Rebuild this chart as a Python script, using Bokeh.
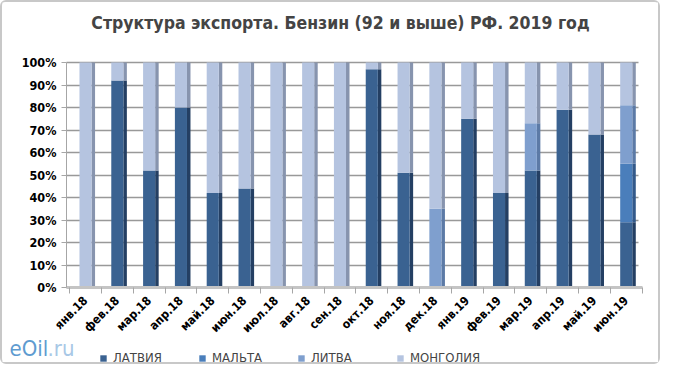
from bokeh.plotting import figure
from bokeh.models import (ColumnDataSource, Range1d, PrintfTickFormatter,
                          FixedTicker, Legend, LegendItem, Label)
from bokeh.transform import dodge
from bokeh.embed import file_html
from bokeh.resources import INLINE

months = ["янв.18", "фев.18", "мар.18", "апр.18", "май.18", "июн.18", "июл.18", "авг.18",
          "сен.18", "окт.18", "ноя.18", "дек.18", "янв.19", "фев.19", "мар.19", "апр.19",
          "май.19", "июн.19"]
series = ["ЛАТВИЯ", "МАЛЬТА", "ЛИТВА", "МОНГОЛИЯ"]
latvia =    [0, 92, 52, 80, 42, 44, 0, 0, 0, 97, 51, 0, 75, 42, 52, 79, 68, 29]
malta =     [0, 0, 0, 0, 0, 0, 0, 0, 0, 0, 0, 0, 0, 0, 0, 0, 0, 26]
lithuania = [0, 0, 0, 0, 0, 0, 0, 0, 0, 0, 0, 35, 0, 0, 21, 0, 0, 26]
mongolia = [100 - a - b - c for a, b, c in zip(latvia, malta, lithuania)]
y_ticks = [0, 10, 20, 30, 40, 50, 60, 70, 80, 90, 100]

front_colors = ["#3A6291", "#4A7EBB", "#7F9FCE", "#B5C4E0"]
side_colors = ["#243F63", "#33598A", "#5C7AA6", "#8794AE"]

FONT = "DejaVu Sans Condensed"

xs = list(range(len(months)))
bounds_ticks = [i - 0.5 for i in xs] + [xs[-1] + 0.5]
src = ColumnDataSource(dict(x=xs, m=months,
                            **{s: v for s, v in zip(series, [latvia, malta, lithuania, mongolia])}))

p = figure(x_range=Range1d(-2.61, 18.14), y_range=Range1d(-35.1, 126.7),
           width=660, height=364, output_backend="svg", toolbar_location=None,
           min_border=0)
p.background_fill_color = "white"
p.border_fill_color = "white"
p.outline_line_color = None

# side faces
p.vbar_stack(series, x=dodge("x", 0.245, range=p.x_range), width=0.11, source=src,
             color=side_colors, line_color=None)
# front faces
fronts = p.vbar_stack(series, x="x", width=0.38, source=src, color=front_colors,
                      line_color=None)

p.yaxis.fixed_location = -0.6
p.yaxis.bounds = (0, 100)
p.yaxis.ticker = FixedTicker(ticks=y_ticks)
p.yaxis.formatter = PrintfTickFormatter(format="%d%%")
p.yaxis.major_label_text_font = FONT
p.yaxis.major_label_text_font_style = "bold"
p.yaxis.major_label_text_font_size = "12.5px"
p.yaxis.major_label_text_color = "black"
p.yaxis.axis_line_color = "#A6A6A6"
p.yaxis.major_tick_line_color = "#A6A6A6"
p.yaxis.major_tick_in = 0
p.yaxis.major_tick_out = 5
p.yaxis.minor_tick_line_color = None

p.xaxis.fixed_location = 0
p.xaxis.bounds = (-0.6, 17.5)
p.xaxis.ticker = FixedTicker(ticks=xs, minor_ticks=bounds_ticks)
p.xaxis.major_label_overrides = {i: m for i, m in zip(xs, months)}
p.xaxis.major_label_orientation = 0.785
p.xaxis.major_label_text_font = FONT
p.xaxis.major_label_text_font_style = "bold"
p.xaxis.major_label_text_font_size = "12px"
p.xaxis.major_label_text_color = "black"
p.xaxis.axis_line_color = "#C4C4C4"
p.xaxis.axis_line_width = 3
p.xaxis.major_tick_line_color = None
p.xaxis.minor_tick_line_color = "#A6A6A6"
p.xaxis.minor_tick_in = 0
p.xaxis.minor_tick_out = 6

p.xgrid.grid_line_color = None
p.ygrid.grid_line_color = "#999999"
p.ygrid.grid_line_width = 1.5
p.ygrid.ticker = FixedTicker(ticks=y_ticks)
try:
    p.ygrid.cross_bounds = (-0.6, 17.4)
except Exception:
    pass

legend = Legend(items=[LegendItem(label=s, renderers=[r]) for s, r in zip(series, fronts)],
                orientation="horizontal", location=(97, 1),
                glyph_width=8, glyph_height=8, label_standoff=6, spacing=0,
                label_width=85, label_text_font=FONT, label_text_font_size="13px",
                border_line_color=None, background_fill_alpha=0, padding=0, margin=0,
                label_height=14)
p.add_layout(legend, "center")

p.add_layout(Label(x=338, y=344, x_units="screen", y_units="screen",
                   text="Структура экспорта. Бензин (92 и выше) РФ. 2019 год",
                   text_font=FONT, text_font_style="bold", text_font_size="17.5px",
                   text_align="center", text_baseline="middle"))
p.add_layout(Label(x=7, y=18, x_units="screen", y_units="screen", text="eOil",
                   text_font=FONT, text_font_size="22px", text_color="#5E9BD0",
                   text_baseline="middle"))
p.add_layout(Label(x=45, y=18, x_units="screen", y_units="screen", text=".ru",
                   text_font=FONT, text_font_size="22px", text_color="#A8C8E6",
                   text_baseline="middle"))

p.styles = {"border": "2px solid #C8C8C8", "border-radius": "6px"}

open("out.html", "w").write(file_html(p, INLINE))
